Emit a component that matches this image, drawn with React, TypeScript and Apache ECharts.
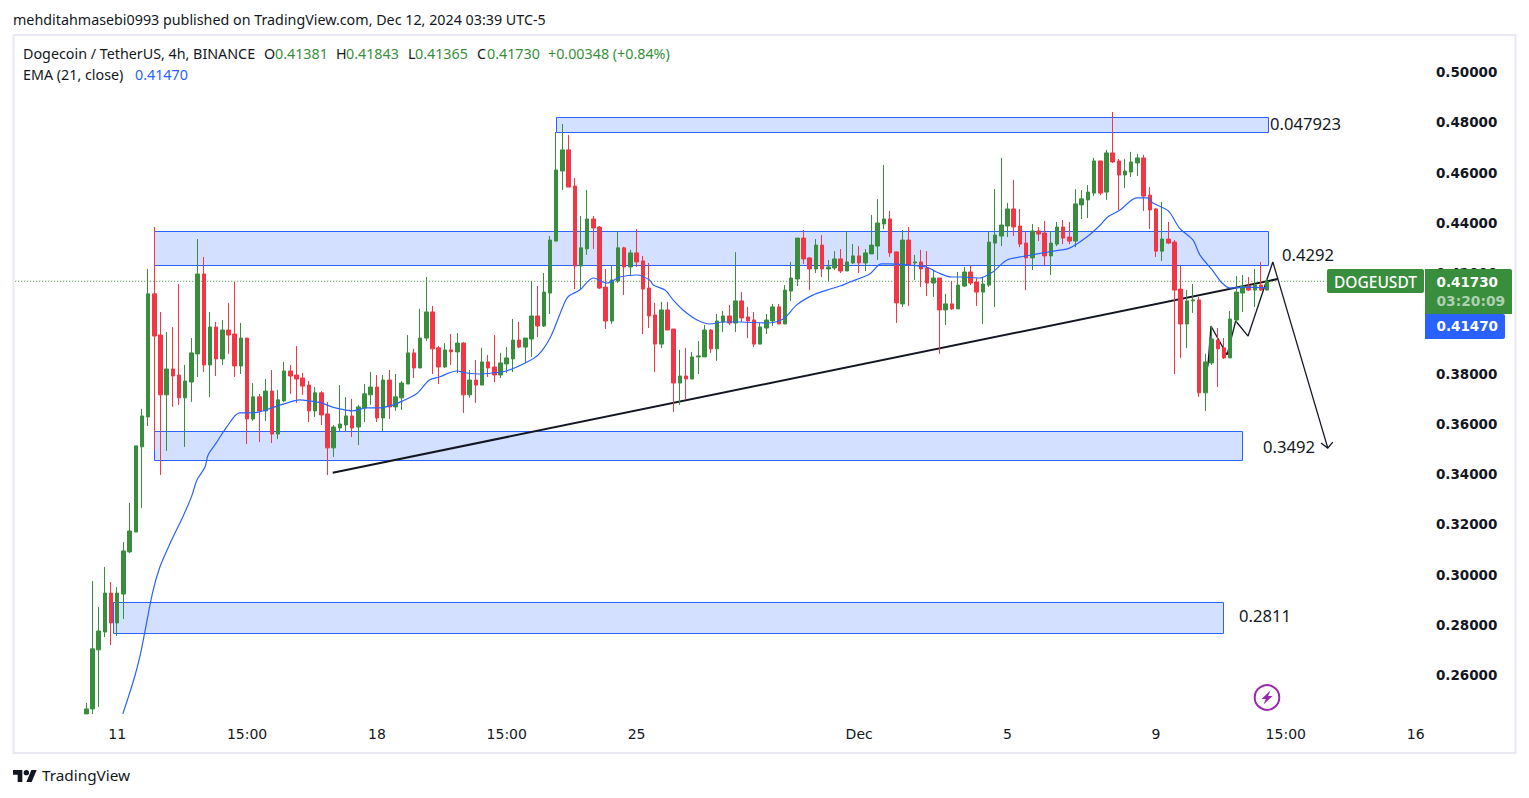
import React, { useEffect, useRef } from "react";
import * as echarts from "echarts";

const UP = "#388E3C";
const DOWN = "#F23645";
const BLUE = "#2962FF";
const INK = "#131722";
const FONT = "'Noto Sans', sans-serif";
const AXIS_FONT = "'DejaVu Sans', sans-serif";
const HEAD_SIZE = 14.3;

// [open, close, low, high]
const candlesNov10 = [
  [.2451,.2471,.2451,.2495],[.2471,.2710,.2451,.2980],[.2706,.2781,.2479,.2877],[.2777,.2932,.2757,.3036],
  [.2932,.2813,.2725,.2976],[.2813,.2932,.2761,.2956],[.2928,.3100,.2829,.3135],[.3096,.3179,.3092,.3291],
  [.3175,.3518,.3175,.3518],[.3514,.3637,.3271,.3665],[.3633,.4123,.3597,.4222],[.4123,.3955,.3502,.4389],
  [.3959,.3721,.3402,.4051],[.3721,.3824,.3498,.3971],[.3824,.3796,.3673,.3991],[.3800,.3709,.3681,.4162],
  [.3709,.3776,.3514,.3840],[.3772,.3888,.3693,.3947],[.3884,.4202,.3792,.4341],[.4202,.3840,.3812,.4270],
  [.3840,.3991,.3712,.4051],[.3991,.3864,.3796,.4011],[.3864,.3979,.3840,.4019],[.3979,.3959,.3884,.4087],
  [.3963,.3836,.3792,.4170],[.3836,.3947,.3804,.4007],[.3947,.3625,.3525,.3947],[.3625,.3713,.3617,.3768],
  [.3713,.3657,.3533,.3725],[.3657,.3736,.3617,.3784],[.3736,.3565,.3529,.3820],[.3565,.3701,.3545,.3740],
];
const candlesNov15 = [
  [.3697,.3816,.3693,.3852],[.3816,.3796,.3725,.3840],[.3800,.3784,.3689,.3915],[.3788,.3756,.3721,.3808],
  [.3760,.3657,.3613,.3776],[.3657,.3729,.3633,.3752],[.3729,.3641,.3601,.3736],[.3645,.3510,.3402,.3693],
  [.3510,.3593,.3474,.3601],[.3589,.3605,.3577,.3760],[.3601,.3637,.3573,.3712],[.3637,.3589,.3553,.3705],
  [.3593,.3673,.3521,.3681],[.3669,.3725,.3613,.3764],[.3721,.3752,.3681,.3812],[.3752,.3629,.3613,.3800],
  [.3629,.3780,.3577,.3800],[.3780,.3673,.3625,.3820],[.3673,.3713,.3657,.3804],[.3709,.3768,.3661,.3776],
  [.3764,.3888,.3764,.3959],[.3888,.3828,.3788,.3904],[.3828,.3947,.3828,.4063],[.3947,.4051,.3935,.4190],
  [.4051,.3904,.3804,.4075],[.3908,.3832,.3764,.3915],[.3832,.3900,.3828,.3927],[.3900,.3892,.3840,.3963],
  [.3892,.3927,.3808,.3967],[.3927,.3721,.3649,.3931],[.3721,.3780,.3709,.3820],[.3780,.3760,.3689,.3860],
];
const candlesNov20 = [
  [.3760,.3852,.3760,.3908],[.3852,.3828,.3792,.3880],[.3832,.3800,.3772,.3959],[.3800,.3848,.3788,.3888],
  [.3844,.3868,.3808,.3911],[.3864,.3939,.3812,.4023],[.3939,.3911,.3907,.4011],[.3911,.3947,.3848,.3947],
  [.3943,.4035,.3872,.4174],[.4035,.3995,.3951,.4154],[.3995,.4130,.3991,.4206],[.4126,.4337,.4043,.4353],
  [.4333,.4616,.4333,.4767],[.4612,.4696,.4536,.4799],[.4696,.4548,.4548,.4755],[.4552,.4234,.4142,.4584],
  [.4234,.4306,.4142,.4433],[.4302,.4421,.4278,.4536],[.4421,.4385,.4302,.4433],[.4389,.4146,.4142,.4393],
  [.4150,.4015,.3983,.4222],[.4015,.4178,.4003,.4238],[.4174,.4306,.4166,.4373],[.4306,.4230,.4118,.4310],
  [.4230,.4286,.4194,.4298],[.4286,.4250,.4230,.4381],[.4254,.4142,.3963,.4274],[.4146,.4035,.3987,.4246],
  [.4039,.3923,.3812,.4087],[.3923,.4059,.3907,.4091],[.4059,.3979,.3979,.4091],[.3983,.3768,.3653,.3983],
];
const candlesNov26 = [
  [.3768,.3796,.3681,.3900],[.3796,.3784,.3701,.3908],[.3784,.3872,.3784,.3892],[.3872,.3876,.3804,.3935],
  [.3872,.3979,.3872,.3999],[.3979,.3904,.3888,.3983],[.3904,.4015,.3856,.4043],[.4011,.4035,.3971,.4055],
  [.4035,.4007,.3999,.4079],[.4007,.4095,.3971,.4289],[.4095,.4027,.4011,.4130],[.4031,.4015,.3947,.4071],
  [.4019,.3923,.3911,.4051],[.3923,.3991,.3923,.4007],[.3987,.4019,.3963,.4043],[.4015,.4071,.3995,.4083],
  [.4071,.4003,.4003,.4083],[.4003,.4138,.4003,.4158],[.4134,.4186,.4095,.4250],[.4182,.4345,.4154,.4345],
  [.4345,.4262,.4242,.4377],[.4266,.4222,.4138,.4270],[.4222,.4317,.4206,.4341],[.4317,.4222,.4190,.4357],
  [.4222,.4230,.4174,.4258],[.4226,.4262,.4218,.4293],[.4262,.4214,.4206,.4301],[.4214,.4250,.4214,.4373],
  [.4246,.4274,.4242,.4321],[.4274,.4246,.4206,.4313],[.4246,.4286,.4214,.4301],[.4282,.4317,.4282,.4437],
];
const candlesDec1 = [
  [.4313,.4405,.4258,.4500],[.4401,.4421,.4381,.4636],[.4421,.4286,.4270,.4453],[.4290,.4087,.4007,.4290],
  [.4083,.4337,.4071,.4377],[.4337,.4238,.4075,.4389],[.4246,.4250,.4178,.4278],[.4250,.4222,.4150,.4298],
  [.4226,.4166,.4114,.4293],[.4166,.4186,.4111,.4214],[.4186,.4059,.3884,.4186],[.4059,.4083,.3999,.4123],
  [.4083,.4063,.4059,.4174],[.4063,.4158,.4063,.4210],[.4154,.4210,.4150,.4230],[.4210,.4166,.4158,.4238],
  [.4170,.4130,.4075,.4186],[.4130,.4162,.4003,.4186],[.4158,.4329,.4150,.4373],[.4325,.4357,.4071,.4540],
  [.4353,.4397,.4313,.4664],[.4393,.4461,.4349,.4485],[.4461,.4389,.4353,.4576],[.4393,.4321,.4309,.4461],
  [.4325,.4266,.4138,.4369],[.4266,.4373,.4218,.4401],[.4373,.4361,.4333,.4389],[.4365,.4274,.4234,.4413],
  [.4274,.4325,.4198,.4373],[.4321,.4389,.4313,.4409],[.4389,.4345,.4321,.4417],[.4349,.4333,.4321,.4409],
];
const candlesDec6 = [
  [.4333,.4481,.4309,.4540],[.4477,.4501,.4421,.4536],[.4497,.4528,.4425,.4556],[.4524,.4652,.4512,.4664],
  [.4652,.4524,.4516,.4652],[.4528,.4684,.4497,.4696],[.4684,.4648,.4644,.4847],[.4652,.4596,.4457,.4660],
  [.4596,.4612,.4544,.4660],[.4608,.4648,.4588,.4688],[.4644,.4664,.4592,.4680],[.4664,.4512,.4453,.4676],
  [.4516,.4457,.4381,.4548],[.4461,.4293,.4270,.4465],[.4293,.4341,.4254,.4489],[.4341,.4325,.4321,.4409],
  [.4329,.4138,.3804,.4337],[.4142,.4003,.3868,.4234],[.4003,.4095,.3907,.4138],[.4095,.4099,.4047,.4162],
  [.4099,.3729,.3713,.4111],[.3729,.3852,.3657,.3884],[.3848,.3943,.3840,.3995],[.3939,.3904,.3752,.3987],
  [.3908,.3868,.3864,.3947],[.3868,.4023,.3868,.4055],[.4019,.4130,.4007,.4194],[.4126,.4154,.4051,.4198],
  [.4154,.4138,.4134,.4190],[.4138,.4158,.4071,.4222],[.4158,.4138,.4134,.4250],[.41381,.41730,.41365,.41843],
];
const candles = [...candlesNov10, ...candlesNov15, ...candlesNov20, ...candlesNov26, ...candlesDec1, ...candlesDec6];

// EMA (21, close): [candle position, price]
const emaRise = [
  [5.9,.2451],[6.9,.2526],[7.9,.2606],[8.9,.2706],[10.7,.2932],[11.9,.3036],[13.8,.3143],[15.6,.3235],
  [17,.3315],[17.9,.3382],[19.2,.3434],[19.7,.3482],[21,.3529],[22.7,.3593],[24.8,.3649],[26.4,.3649],
];
const emaNov = [
  [28,.3653],[30,.3669],[32,.3685],[34.5,.3701],[36,.3697],[38,.3689],[39.7,.3673],[41,.3665],[43,.3657],
  [45.4,.3669],[47.5,.3669],[49.6,.3681],[51.2,.3697],[53.4,.3725],[55.5,.3780],[57.1,.3792],[59.9,.3816],
  [61.5,.3808],[63.6,.3804],[65.7,.3808],[67.9,.3816],[71,.3848],[73.1,.3880],[75,.3947],[77,.4067],
  [77.9,.4111],[79.8,.4138],[82,.4186],[84.2,.4166],[86.3,.4190],[89.1,.4198],[91.1,.4178],
];
const emaLateNov = [
  [91.7,.4158],[93.6,.4138],[94.9,.4099],[96.5,.4059],[98.8,.4019],[100.9,.4003],[103,.4011],[105.7,.4011],
  [110,.4007],[112.7,.4023],[114.9,.4079],[117.5,.4118],[119.8,.4138],[121.9,.4154],[123.5,.4170],
  [126.7,.4202],[128.6,.4242],[129.9,.4242],[132.7,.4238],[135.9,.4230],[137.5,.4210],[139.9,.4190],
  [141.7,.4190],[144.5,.4186],[146.6,.4210],[148.9,.4258],[151.1,.4270],
];
const emaDec = [
  [153.8,.4282],[156.4,.4293],[159,.4305],[162,.4353],[164,.4397],[165.2,.4429],[167.2,.4457],[169.9,.4505],
  [171.6,.4505],[172.5,.4485],[175,.4453],[176.8,.4385],[179,.4337],[180.1,.4278],[182.1,.4218],
  [183.7,.4166],[185,.4146],[187.7,.4150],[191,.4147],
];
const emaValues = [...emaRise, ...emaNov, ...emaLateNov, ...emaDec];

// drawn zones: [from candle, upper price, to candle, lower price]
const zones = [
  [76.0,.4827,191.1,.4767],
  [11.0,.4372,191.1,.4237],
  [11.0,.3577,186.9,.3460],
  [4.3,.2896,183.9,.2773],
];
const trendLine = [[39.85,.3411],[192.7,.4182]];
const projection = [[181.4,.3834],[181.9,.3995],[184.5,.3880],[185.9,.4015],[187.9,.3955],[191.9,.4250],[200.8,.3509]];
const arrowHead = [[199.7,.3529],[200.8,.3509],[201.6,.3533]];
const lastPrice = 0.4173;

const PAD = 11;
const TOTAL = 228;
const tickLabels: [number, string][] = [
  [5,"11"],[26,"15:00"],[47,"18"],[68,"15:00"],[89,"25"],[125,"Dec"],[149,"5"],[173,"9"],[194,"15:00"],[215,"16"],
];
const categories = Array.from({ length: TOTAL }, (_, i) => {
  const hit = tickLabels.find((t) => t[0] + PAD === i);
  return hit ? hit[1] : "";
});

const publisher = "mehditahmasebi0993 published on TradingView.com, Dec 12, 2024 03:39 UTC-5";
const symbolTitle = "Dogecoin / TetherUS, 4h, BINANCE";
const ohlcLegend: [string, string][] = [["O","0.41381"],["H","0.41843"],["L","0.41365"],["C","0.41730"]];
const changeText = "+0.00348 (+0.84%)";
const emaTitle = "EMA (21, close)";
const emaText = "0.41470";

echarts.graphic.registerShape("tvLogo", echarts.graphic.extendPath(
  "M14 22H7V11H0V4h14v18zM28 22h-8l7.5-18h8L28 22zM20 4a4 4 0 1 1 0 8a4 4 0 0 1 0-8z", {}) as any);
echarts.graphic.registerShape("bolt", echarts.graphic.extendPath(
  "M9 0L0 8.5h4.2L2 14l9-8.5H6.6L9 0z", {}) as any);

function txt(x: number, y: number, text: string, fill: string, size = 14, extra: any = {}) {
  return {
    type: "text", x, y, z: 50,
    style: { text, fill, font: `${extra.weight || 400} ${size}px ${extra.family || FONT}`,
      textAlign: extra.align || "left", textVerticalAlign: "middle", verticalAlign: "middle" },
  };
}

function buildGraphic() {
  const ex: any[] = [];
  ex.push({ type: "rect", z: 0, silent: true, shape: { x: 13.5, y: 35, width: 1502, height: 718 },
    style: { fill: "none", stroke: "#E8E9F2", lineWidth: 2 } });
  ex.push(txt(13, 19, publisher, INK, HEAD_SIZE));
  ex.push(txt(23, 53, symbolTitle, INK, HEAD_SIZE));
  const xs = [[264,275],[336,346],[408,415],[477,487]];
  ohlcLegend.forEach((o, i) => {
    ex.push(txt(xs[i][0], 53, o[0], INK, HEAD_SIZE));
    ex.push(txt(xs[i][1], 53, o[1], UP, HEAD_SIZE));
  });
  ex.push(txt(548, 53, changeText, UP, HEAD_SIZE));
  ex.push(txt(23, 74, emaTitle, INK, HEAD_SIZE));
  ex.push(txt(135, 74, emaText, BLUE, HEAD_SIZE));

  ex.push(txt(1270, 123, "0.047923", INK, 16.6));
  ex.push(txt(1282, 254, "0.4292", INK, 16.6));
  ex.push(txt(1263, 446, "0.3492", INK, 16.6));
  ex.push(txt(1239, 615, "0.2811", INK, 16.6));

  ex.push({ type: "rect", z: 40, shape: { x: 1327, y: 269, width: 97, height: 24, r: 2 }, style: { fill: UP } });
  ex.push({ type: "rect", z: 40, shape: { x: 1425, y: 269, width: 87, height: 45, r: [0,2,0,0] }, style: { fill: UP } });
  ex.push({ type: "rect", z: 40, shape: { x: 1425, y: 314, width: 80, height: 25, r: [0,2,2,0] }, style: { fill: BLUE } });
  ex.push(txt(1375.5, 282, "DOGEUSDT", "#fff", 15.5, { align: "center", weight: 500 }));
  ex.push(txt(1436.5, 282, "0.41730", "#fff", 13.5, { family: AXIS_FONT, weight: 700 }));
  ex.push(txt(1436.5, 301, "03:20:09", "rgba(255,255,255,0.6)", 13.8, { family: AXIS_FONT, weight: 700 }));
  ex.push(txt(1436.5, 326, "0.41470", "#fff", 13.5, { family: AXIS_FONT, weight: 700 }));

  ex.push({ type: "tvLogo", x: 13, y: 767.3, scaleX: 0.667, scaleY: 0.667, z: 50, style: { fill: INK } });
  ex.push(txt(42, 775, "TradingView", INK, 15.3));

  ex.push({ type: "circle", z: 50, shape: { cx: 1267, cy: 697.5, r: 12.3 }, style: { fill: "none", stroke: "#9C27B0", lineWidth: 2 } });
  ex.push({ type: "bolt", x: 1261.5, y: 690.5, z: 50, style: { fill: "#9C27B0" } });
  return ex;
}

function buildOption(): any {
  return {
    animation: false,
    backgroundColor: "#ffffff",
    graphic: { elements: buildGraphic() },
    grid: { left: 15.2, right: 104.1, top: 23.25, bottom: 71.25, containLabel: false },
    xAxis: [
      {
        type: "category", data: categories, boundaryGap: true,
        axisLine: { show: false }, axisTick: { show: false }, splitLine: { show: false },
        axisLabel: { interval: 0, margin: 0, color: INK, fontFamily: AXIS_FONT, fontSize: 14, fontWeight: 400,
          hideOverlap: false, showMinLabel: true, showMaxLabel: true },
      },
      { type: "value", show: false, min: -PAD - 0.5, max: TOTAL - PAD - 0.5, splitLine: { show: false } },
    ],
    yAxis: {
      type: "value", position: "right", min: 0.24, max: 0.52, interval: 0.02, scale: true,
      axisLine: { show: false }, axisTick: { show: false }, splitLine: { show: false },
      axisLabel: { margin: 11, verticalAlign: "bottom", lineHeight: 3, color: INK, fontFamily: AXIS_FONT, fontSize: 13.5, fontWeight: 700,
        formatter: (v: number) => (v < 0.25 || v > 0.51 ? "" : v.toFixed(5)) },
    },
    series: [
      {
        type: "custom", xAxisIndex: 1, yAxisIndex: 0, z: 1, silent: true, clip: false,
        data: zones,
        renderItem: (_: any, api: any) => {
          const a = api.coord([api.value(0), api.value(1)]);
          const b = api.coord([api.value(2), api.value(3)]);
          const x0 = Math.round(a[0]) + 0.5, y0 = Math.round(a[1]) + 0.5;
          const x1 = Math.round(b[0]) + 0.5, y1 = Math.round(b[1]) + 0.5;
          return { type: "rect", shape: { x: x0, y: y0, width: x1 - x0, height: y1 - y0 },
            style: { fill: "rgba(41,98,255,0.2)", stroke: BLUE, lineWidth: 1 } };
        },
      },
      {
        type: "line", xAxisIndex: 1, yAxisIndex: 0, z: 2, silent: true, symbol: "none",
        data: [[-PAD - 0.5, lastPrice], [200.6, lastPrice]],
        lineStyle: { color: UP, width: 1, type: [1, 2] },
      },
      {
        type: "line", xAxisIndex: 1, yAxisIndex: 0, z: 2, silent: true, symbol: "none", data: trendLine,
        lineStyle: { color: INK, width: 2 },
      },
      {
        type: "line", xAxisIndex: 1, yAxisIndex: 0, z: 2, silent: true, symbol: "none", data: projection,
        lineStyle: { color: INK, width: 1.3 },
      },
      {
        type: "line", xAxisIndex: 1, yAxisIndex: 0, z: 2, silent: true, symbol: "none", data: arrowHead,
        lineStyle: { color: INK, width: 1.3 },
      },
      {
        type: "candlestick", xAxisIndex: 0, yAxisIndex: 0, z: 3, barWidth: 4,
        encode: { x: 0, y: [1, 2, 3, 4] },
        data: candles.map((c, i) => [i + PAD, c[0], c[1], c[2], c[3]]),
        itemStyle: { color: UP, color0: DOWN, borderColor: UP, borderColor0: DOWN, borderWidth: 1 },
      },
      {
        type: "line", xAxisIndex: 1, yAxisIndex: 0, z: 4, silent: true, symbol: "none", data: emaValues,
        smooth: 0.3, lineStyle: { color: BLUE, width: 1.2 },
      },
    ],
  };
}

export default function App() {
  const ref = useRef<HTMLDivElement>(null);
  useEffect(() => {
    const chart = echarts.init(ref.current!, undefined, { renderer: "svg" });
    chart.setOption(buildOption());
    return () => chart.dispose();
  }, []);
  return <div ref={ref} style={{ position: "fixed", left: 0, top: 0, width: 1529, height: 798, background: "#fff" }} />;
}
